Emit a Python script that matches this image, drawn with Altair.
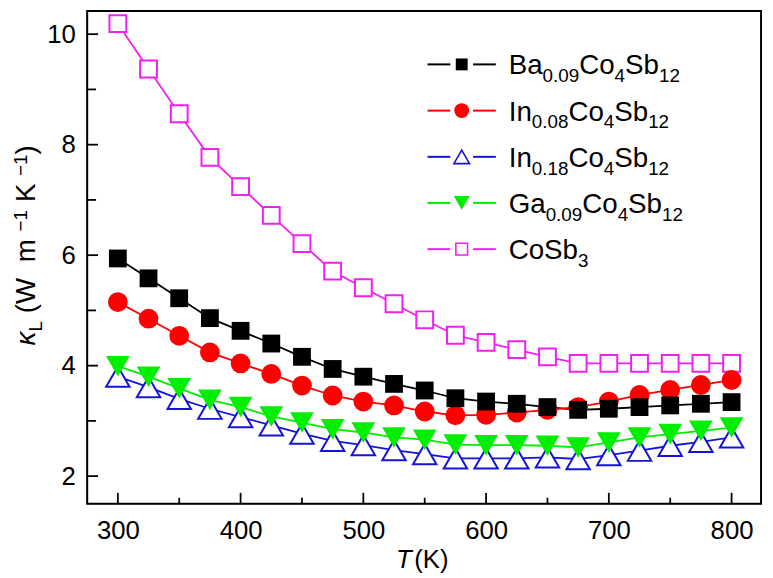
import altair as alt
import pandas as pd

# ---------------- data ----------------
temps = [300, 325, 350, 375, 400, 425, 450, 475, 500, 525, 550,
         575, 600, 625, 650, 675, 700, 725, 750, 775, 800]
kappa_ba = [5.94, 5.58, 5.22, 4.86, 4.63, 4.40, 4.16, 3.94, 3.80, 3.67, 3.55,
            3.41, 3.35, 3.31, 3.25, 3.20, 3.22, 3.25, 3.28, 3.31, 3.34]
kappa_in008 = [5.15, 4.85, 4.54, 4.24, 4.04, 3.85, 3.64, 3.46, 3.35, 3.28, 3.17,
               3.10, 3.11, 3.15, 3.20, 3.25, 3.35, 3.47, 3.56, 3.65, 3.74]
kappa_in018 = [3.80, 3.61, 3.40, 3.22, 3.07, 2.92, 2.77, 2.64, 2.56, 2.47, 2.40,
               2.32, 2.32, 2.32, 2.34, 2.31, 2.38, 2.46, 2.55, 2.62, 2.70]
kappa_ga = [3.99, 3.80, 3.59, 3.38, 3.25, 3.08, 2.97, 2.85, 2.79, 2.70, 2.66,
            2.57, 2.56, 2.56, 2.55, 2.52, 2.61, 2.70, 2.76, 2.82, 2.88]
kappa_cosb3 = [10.19, 9.37, 8.56, 7.77, 7.24, 6.72, 6.21, 5.71, 5.41, 5.12, 4.83,
               4.55, 4.42, 4.29, 4.16, 4.04, 4.04, 4.04, 4.04, 4.04, 4.04]

series_keys = ["Ba", "In008", "In018", "Ga", "CoSb3"]
series_values = {"Ba": kappa_ba, "In008": kappa_in008, "In018": kappa_in018,
                 "Ga": kappa_ga, "CoSb3": kappa_cosb3}
# legend label pieces: (text, role) role m = main, s = subscript
series_labels = {
    "Ba": [("Ba", "m"), ("0.09", "s"), ("Co", "m"), ("4", "s"), ("Sb", "m"), ("12", "s")],
    "In008": [("In", "m"), ("0.08", "s"), ("Co", "m"), ("4", "s"), ("Sb", "m"), ("12", "s")],
    "In018": [("In", "m"), ("0.18", "s"), ("Co", "m"), ("4", "s"), ("Sb", "m"), ("12", "s")],
    "Ga": [("Ga", "m"), ("0.09", "s"), ("Co", "m"), ("4", "s"), ("Sb", "m"), ("12", "s")],
    "CoSb3": [("CoSb", "m"), ("3", "s")],
}
x_major = [300, 400, 500, 600, 700, 800]
x_minor = [350, 450, 550, 650, 750]
y_major = [2, 4, 6, 8, 10]
y_minor = [3, 5, 7, 9]

# ---------------- styles & layout ----------------
FONT = "Liberation Sans"
STYLE = {
    "Ba": dict(color="#000000", shape="square", open=False, size=324, lsize=144),
    "In008": dict(color="#ff0000", shape="circle", open=False, size=400, lsize=225),
    "In018": dict(color="#1414d8", shape="triangle-up", open=True, size=560, lsize=250),
    "Ga": dict(color="#00ee00", shape="triangle-down", open=False, size=576, lsize=256),
    "CoSb3": dict(color="#f020f0", shape="square", open=True, size=289, lsize=140),
}
draw_order = ["CoSb3", "In018", "Ga", "In008", "Ba"]

W, H = 681, 498
X_DOM = [275, 824]
Y_DOM = [1.5, 10.42]

ADV = {"B": .667, "a": .556, "C": .722, "o": .556, "S": .667, "b": .556, "I": .278,
       "n": .556, "G": .778, ".": .278, " ": .278, "(": .333, ")": .333, "W": .944,
       "m": .833, "K": .667, "L": .556, "T": .611, "κ": .5, "−": .584}


def tw(s, fs):
    return sum(ADV.get(c, 0.556) for c in s) * fs


# ---------------- tables ----------------
rows = []
for k in series_keys:
    for t, v in zip(temps, series_values[k]):
        rows.append({"T": t, "k": v, "series": k})
df = pd.DataFrame(rows)

pts = []
for k in draw_order:
    st = STYLE[k]
    for t, v in zip(temps, series_values[k]):
        pts.append({"T": t, "k": v, "shape": st["shape"],
                    "fill": "white" if st["open"] else st["color"],
                    "stroke": st["color"], "sw": 2.0 if st["open"] else 0.0,
                    "size": st["size"]})
df_pts = pd.DataFrame(pts)

# legend
LEG_ROWS = [54.0, 100.7, 147.4, 194.0, 240.7]
MAIN_FS, SUB_FS = 28, 19
leg_lines, leg_marks, texts = [], [], []
for i, k in enumerate(series_keys):
    st = STYLE[k]
    yc = LEG_ROWS[i]
    leg_lines.append({"x": 344, "x2": 367, "y": yc, "c": st["color"]})
    leg_lines.append({"x": 390, "x2": 413, "y": yc, "c": st["color"]})
    leg_marks.append({"x": 378.5, "y": yc, "shape": st["shape"],
                      "fill": "white" if st["open"] else st["color"],
                      "stroke": st["color"], "sw": 1.6 if st["open"] else 0.0,
                      "size": st["lsize"]})
    cx = 426.0
    for txt, role in series_labels[k]:
        fs = MAIN_FS if role == "m" else SUB_FS
        texts.append({"px": cx, "py": yc + 10 + (0 if role == "m" else 8),
                      "txt": txt, "fs": fs})
        cx += tw(txt, fs)

# x-axis title: italic T + (K)
texts.append({"px": 330.5, "py": 563, "txt": "(K)", "fs": 26})
x_italic = [{"px": 312, "py": 563, "txt": "T", "fs": 26}]

# y-axis title (rotated, reading upward)
YT_FS, YT_SUB = 28, 19
ybase_x, y0 = -53, 338
y_pieces = [("κ", "i", 0), ("L", "n", 7), (" (W", "n", 0), (" m", "n", 0), ("−1", "n", -8),
            (" K", "n", 0), ("−1", "n", -8), (")", "n", 0)]
yt_norm, yt_ital = [], []
cy = y0
for txt, sty, shift in y_pieces:
    fs = YT_FS if shift == 0 else YT_SUB
    extra = 8 if txt.startswith(" ") else 0
    cy -= extra
    rec = {"px": ybase_x + shift, "py": cy, "txt": txt.strip() if extra else txt, "fs": fs}
    (yt_ital if sty == "i" else yt_norm).append(rec)
    cy -= tw(rec["txt"], fs) + (tw(" ", fs) if extra else 0)

df_leg_lines = pd.DataFrame(leg_lines)
df_leg_marks = pd.DataFrame(leg_marks)
df_text = pd.DataFrame(texts)
df_xit = pd.DataFrame(x_italic)
df_ytn = pd.DataFrame(yt_norm)
df_yti = pd.DataFrame(yt_ital)

# ---------------- chart ----------------
xs = alt.Scale(domain=X_DOM, nice=False, zero=False)
ys = alt.Scale(domain=Y_DOM, nice=False, zero=False)

lines = alt.Chart(df).mark_line(strokeWidth=1.8).encode(
    x=alt.X("T:Q", scale=xs, axis=alt.Axis(
        orient="bottom", values=x_major, ticks=False, tickSize=0, domain=False,
        grid=False, labelFontSize=26, labelFont=FONT, labelColor="black",
        labelPadding=14, labelFlush=False, title=None)),
    y=alt.Y("k:Q", scale=ys, axis=alt.Axis(
        orient="left", values=y_major, ticks=False, tickSize=0, domain=False,
        grid=False, labelFontSize=26, labelFont=FONT, labelColor="black",
        labelPadding=12, title=None)),
    color=alt.Color("series:N", scale=alt.Scale(
        domain=series_keys, range=[STYLE[k]["color"] for k in series_keys]), legend=None),
)

points = alt.Chart(df_pts).mark_point(opacity=1, filled=True).encode(
    x=alt.X("T:Q", axis=None),
    y=alt.Y("k:Q", axis=None),
    shape=alt.Shape("shape:N", scale=None),
    fill=alt.Fill("fill:N", scale=None),
    stroke=alt.Stroke("stroke:N", scale=None),
    strokeWidth=alt.StrokeWidth("sw:Q", scale=None),
    size=alt.Size("size:Q", scale=None),
)

# inward ticks (positioned through the shared scales)
xt_major = alt.Chart(pd.DataFrame({"T": x_major})).mark_rule(color="black", strokeWidth=1.8).encode(
    x=alt.X("T:Q", axis=None), y=alt.value(H), y2=alt.value(H - 11))
xt_minor = alt.Chart(pd.DataFrame({"T": x_minor})).mark_rule(color="black", strokeWidth=1.8).encode(
    x=alt.X("T:Q", axis=None), y=alt.value(H), y2=alt.value(H - 6))
yt_major = alt.Chart(pd.DataFrame({"k": y_major})).mark_rule(color="black", strokeWidth=1.8).encode(
    y=alt.Y("k:Q", axis=None), x=alt.value(0), x2=alt.value(11))
yt_minor = alt.Chart(pd.DataFrame({"k": y_minor})).mark_rule(color="black", strokeWidth=1.8).encode(
    y=alt.Y("k:Q", axis=None), x=alt.value(0), x2=alt.value(9))

# frame drawn explicitly
frame = alt.Chart(pd.DataFrame({"T": [X_DOM[0]]})).mark_rect(
    fill=None, stroke="black", strokeWidth=2).encode(
    x=alt.value(0), x2=alt.value(W), y=alt.value(0), y2=alt.value(H))

leg_rules = alt.Chart(df_leg_lines).mark_rule(strokeWidth=2).encode(
    x=alt.X("x:Q", scale=None, axis=None), x2="x2:Q",
    y=alt.Y("y:Q", scale=None, axis=None),
    color=alt.Color("c:N", scale=None),
)
leg_pts = alt.Chart(df_leg_marks).mark_point(opacity=1, filled=True).encode(
    x=alt.X("x:Q", scale=None, axis=None),
    y=alt.Y("y:Q", scale=None, axis=None),
    shape=alt.Shape("shape:N", scale=None),
    fill=alt.Fill("fill:N", scale=None),
    stroke=alt.Stroke("stroke:N", scale=None),
    strokeWidth=alt.StrokeWidth("sw:Q", scale=None),
    size=alt.Size("size:Q", scale=None),
)


def text_layer(d, **kw):
    return alt.Chart(d).mark_text(align="left", baseline="alphabetic", font=FONT,
                                  color="black", **kw).encode(
        x=alt.X("px:Q", scale=None, axis=None),
        y=alt.Y("py:Q", scale=None, axis=None),
        text="txt:N",
        size=alt.Size("fs:Q", scale=None),
    )


chart = alt.layer(
    lines, points, xt_major, xt_minor, yt_major, yt_minor, frame, leg_rules, leg_pts,
    text_layer(df_text), text_layer(df_xit, fontStyle="italic"),
    text_layer(df_ytn, angle=270), text_layer(df_yti, angle=270, fontStyle="italic"),
).resolve_axis(x="independent", y="independent").properties(
    width=W, height=H,
    padding={"left": 80, "top": 0, "right": 4, "bottom": 70},
    autosize=alt.AutoSizeParams(type="none"),
).configure_view(stroke="black", strokeWidth=2).configure(background="white")

chart.save("out.html", embed_options={"renderer": "svg", "actions": False})
